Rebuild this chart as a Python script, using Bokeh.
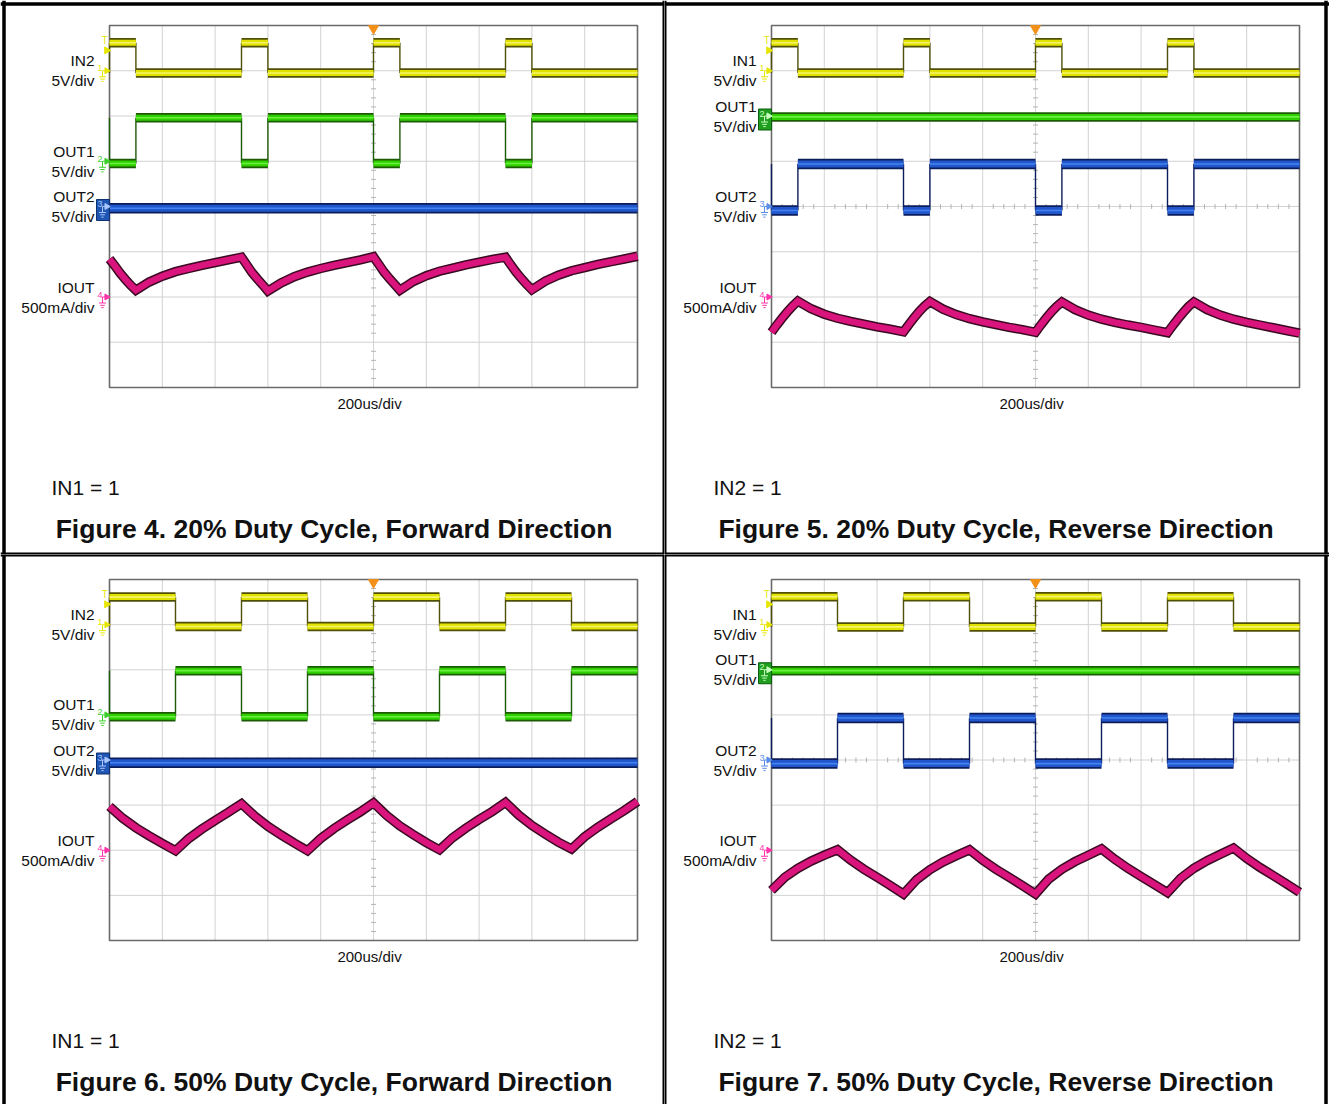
import numpy as np
from bokeh.plotting import figure
from bokeh.layouts import row, column
from bokeh.models import Range1d
from bokeh.embed import file_html
from bokeh.resources import INLINE
from bokeh.core.properties import value

# ---------------- data ----------------
US_PER_DIV = 200
N_XDIV = 10
N_YDIV = 8
T_END = US_PER_DIV * N_XDIV          # 2000 us on screen
TRIG_T = 1000                        # trigger position (us)
TRIG_LEVEL = 7.45                    # trigger level marker (div)

# input pulse edges (us)
EDGES_20 = [0, 100, 500, 600, 1000, 1100, 1500, 1600]
EDGES_50 = [0, 250, 500, 750, 1000, 1250, 1500, 1750]

# sample times for IOUT traces (us)
T_20 = [0, 20, 40, 60, 80, 100, 150, 200, 250, 300, 350, 400, 450, 500,
        520, 540, 560, 580, 600, 650, 700, 750, 800, 850, 900, 950, 1000,
        1020, 1040, 1060, 1080, 1100, 1150, 1200, 1250, 1300, 1350, 1400, 1450, 1500,
        1520, 1540, 1560, 1580, 1600, 1650, 1700, 1750, 1800, 1850, 1900, 1950, 2000]
T_50 = [0, 50, 100, 150, 200, 250, 300, 350, 400, 450, 500,
        550, 600, 650, 700, 750, 800, 850, 900, 950, 1000,
        1050, 1100, 1150, 1200, 1250, 1300, 1350, 1400, 1450, 1500,
        1550, 1600, 1650, 1700, 1750, 1800, 1850, 1900, 1950, 2000]

# Figure 4 (screen divisions)
F4_IN2 = [6.95, 7.62, 6.95, 7.62, 6.95, 7.62, 6.95, 7.62, 6.95]
F4_OUT1 = [5.96, 4.95, 5.96, 4.95, 5.96, 4.95, 5.96, 4.95, 5.96]
F4_OUT2 = [3.96]
F4_IOUT = [2.84, 2.69, 2.53, 2.39, 2.26, 2.15, 2.33, 2.46, 2.56, 2.63, 2.70, 2.76, 2.82, 2.88,
           2.71, 2.54, 2.40, 2.27, 2.13, 2.31, 2.45, 2.55, 2.63, 2.70, 2.76, 2.82, 2.89,
           2.72, 2.55, 2.41, 2.28, 2.15, 2.34, 2.47, 2.57, 2.64, 2.71, 2.77, 2.83, 2.88,
           2.71, 2.55, 2.41, 2.28, 2.16, 2.35, 2.48, 2.58, 2.65, 2.72, 2.78, 2.84, 2.90]

# Figure 5
F5_IN1 = [6.95, 7.62, 6.95, 7.62, 6.95, 7.62, 6.95, 7.62, 6.95]
F5_OUT1 = [5.98]
F5_OUT2 = [4.94, 3.91, 4.94, 3.91, 4.94, 3.91, 4.94, 3.91, 4.94]
F5_IOUT = [1.22, 1.38, 1.53, 1.67, 1.80, 1.91, 1.74, 1.62, 1.53, 1.46, 1.40, 1.34, 1.29, 1.23,
           1.39, 1.54, 1.68, 1.80, 1.90, 1.73, 1.61, 1.52, 1.45, 1.39, 1.33, 1.28, 1.22,
           1.38, 1.53, 1.67, 1.79, 1.89, 1.72, 1.60, 1.51, 1.44, 1.38, 1.33, 1.27, 1.21,
           1.37, 1.52, 1.66, 1.79, 1.89, 1.72, 1.60, 1.51, 1.44, 1.38, 1.32, 1.26, 1.20]

# Figure 6
F6_IN2 = [6.96, 7.61, 6.96, 7.61, 6.96, 7.61, 6.96, 7.61, 6.96]
F6_OUT1 = [5.98, 4.96, 5.98, 4.96, 5.98, 4.96, 5.98, 4.96, 5.98]
F6_OUT2 = [3.94]
F6_IOUT = [2.97, 2.71, 2.50, 2.32, 2.15, 1.99, 2.26, 2.47, 2.66, 2.84, 3.03,
           2.76, 2.53, 2.34, 2.16, 1.99, 2.26, 2.48, 2.67, 2.85, 3.05,
           2.77, 2.54, 2.35, 2.17, 2.01, 2.28, 2.49, 2.68, 2.86, 3.06,
           2.78, 2.55, 2.36, 2.18, 2.03, 2.30, 2.51, 2.70, 2.88, 3.08]

# Figure 7
F7_IN1 = [6.95, 7.62, 6.95, 7.62, 6.95, 7.62, 6.95, 7.62, 6.95]
F7_OUT1 = [5.98]
F7_OUT2 = [4.93, 3.92, 4.93, 3.92, 4.93, 3.92, 4.93, 3.92, 4.93]
F7_IOUT = [1.11, 1.40, 1.60, 1.76, 1.89, 2.01, 1.78, 1.58, 1.40, 1.22, 1.03,
           1.35, 1.57, 1.74, 1.88, 2.01, 1.78, 1.58, 1.40, 1.22, 1.03,
           1.36, 1.58, 1.75, 1.89, 2.03, 1.80, 1.60, 1.42, 1.24, 1.06,
           1.38, 1.60, 1.77, 1.91, 2.05, 1.82, 1.62, 1.44, 1.26, 1.07]

SCALES = ["5V/div", "5V/div", "5V/div", "500mA/div"]
TIMEBASE = "200us/div"

PANELS = [
    dict(caption="Figure 4. 20% Duty Cycle, Forward Direction", cond="IN1 = 1",
         names=["IN2", "OUT1", "OUT2", "IOUT"], grounds=[7.0, 5.0, 4.0, 2.0], boxed=2,
         ch1=(EDGES_20, F4_IN2), ch2=(EDGES_20, F4_OUT1), ch3=([], F4_OUT2), ch4=(T_20, F4_IOUT)),
    dict(caption="Figure 5. 20% Duty Cycle, Reverse Direction", cond="IN2 = 1",
         names=["IN1", "OUT1", "OUT2", "IOUT"], grounds=[7.0, 6.0, 4.0, 2.0], boxed=1,
         ch1=(EDGES_20, F5_IN1), ch2=([], F5_OUT1), ch3=(EDGES_20, F5_OUT2), ch4=(T_20, F5_IOUT)),
    dict(caption="Figure 6. 50% Duty Cycle, Forward Direction", cond="IN1 = 1",
         names=["IN2", "OUT1", "OUT2", "IOUT"], grounds=[7.0, 5.0, 4.0, 2.0], boxed=2,
         ch1=(EDGES_50, F6_IN2), ch2=(EDGES_50, F6_OUT1), ch3=([], F6_OUT2), ch4=(T_50, F6_IOUT)),
    dict(caption="Figure 7. 50% Duty Cycle, Reverse Direction", cond="IN2 = 1",
         names=["IN1", "OUT1", "OUT2", "IOUT"], grounds=[7.0, 6.0, 4.0, 2.0], boxed=1,
         ch1=(EDGES_50, F7_IN1), ch2=([], F7_OUT1), ch3=(EDGES_50, F7_OUT2), ch4=(T_50, F7_IOUT)),
]

# ---------------- layout / style ----------------
FONT = value("Liberation Sans")
PX_PER_US = 52.8 / US_PER_DIV

GEOM = [
    dict(page=(0, 664, 0, 554), plot_left=109, plot_top=25, plot_bottom=387),
    dict(page=(664, 1329, 0, 554), plot_left=771, plot_top=25, plot_bottom=387),
    dict(page=(0, 664, 554, 1104), plot_left=109, plot_top=579, plot_bottom=940),
    dict(page=(664, 1329, 554, 1104), plot_left=771, plot_top=579, plot_bottom=940),
]
# page-pixel positions of the outer frame lines (None = no line)
BORDERS = [
    dict(left=3.5, top=3.5, right="edge", bottom="edge"),
    dict(left="edge", top=3.5, right=1325.5, bottom="edge"),
    dict(left=3.5, top="edge", right="edge", bottom=None),
    dict(left="edge", top="edge", right=1325.5, bottom=None),
]

CH_STYLE = [
    dict(dark="#4f4f08", main="#e2e200", hi="#f4f46a", w=9.5, mark="#e6e600"),
    dict(dark="#1d5a05", main="#2fd000", hi="#6cf042", w=9.5, mark="#3ccf2a"),
    dict(dark="#0b1d5a", main="#2257cc", hi="#4384f2", w=10.5, mark="#5b8de8"),
    dict(dark="#3a0a22", main="#d9147c", hi="#ee3a96", w=9.5, mark="#ff33aa"),
]
BOX_STYLE = {1: dict(fill="#1f9e1f", line="#0b5e0b", sym="#c8ffc0"),
             2: dict(fill="#1f56b3", line="#0e2f70", sym="#a9c6ff")}


def make_panel(cfg, geo, brd):
    left, right, top, bottom = geo["page"]
    pl, pt, pb = geo["plot_left"], geo["plot_top"], geo["plot_bottom"]
    ppy = (pb - pt) / N_YDIV
    X = lambda px: px / PX_PER_US
    Y = lambda px: px / ppy
    PX = lambda px: (px - pl) / PX_PER_US        # page x -> data
    PY = lambda py: (pb - py) / ppy              # page y -> data
    x0r, x1r = PX(left), PX(right)
    y0r, y1r = PY(bottom), PY(top)
    p = figure(width=right - left, height=bottom - top,
               x_range=Range1d(x0r, x1r), y_range=Range1d(y0r, y1r),
               output_backend="svg", toolbar_location=None,
               x_axis_type=None, y_axis_type=None, min_border=0)
    p.outline_line_color = None
    p.background_fill_color = "white"
    p.border_fill_color = "white"

    # grid
    gx = [US_PER_DIV * i for i in range(1, N_XDIV)]
    p.segment(x0=gx, y0=0, x1=gx, y1=N_YDIV, line_color="#d2d2d2", line_width=1)
    gy = list(range(1, N_YDIV))
    p.segment(x0=0, y0=gy, x1=T_END, y1=gy, line_color="#d2d2d2", line_width=1)
    # minor ticks on center axes
    my = [0.2 * k for k in range(1, 5 * N_YDIV) if k % 5]
    p.segment(x0=TRIG_T - X(2.5), y0=my, x1=TRIG_T + X(2.5), y1=my, line_color="#b4b4b4", line_width=1)
    mx = [US_PER_DIV * 0.2 * k for k in range(1, 5 * N_XDIV) if k % 5]
    p.segment(x0=mx, y0=N_YDIV / 2 - Y(2.5), x1=mx, y1=N_YDIV / 2 + Y(2.5), line_color="#b4b4b4", line_width=1)
    # plot border
    p.quad(left=0, right=T_END, bottom=0, top=N_YDIV, fill_color=None,
           line_color="#6a6a6a", line_width=1.6)

    # square-wave channels
    for ci, key in enumerate(["ch1", "ch2", "ch3"]):
        edges, levels = cfg[key]
        st = CH_STYLE[ci]
        bounds = [0] + list(edges) + [T_END]
        sx0, sx1, sy = [], [], []
        for i, lv in enumerate(levels):
            a, b = bounds[i], bounds[i + 1]
            if b > a:
                sx0.append(a); sx1.append(b); sy.append(lv)
        if edges:
            p.segment(x0=edges, y0=levels[:-1], x1=edges, y1=levels[1:],
                      line_color=st["dark"], line_width=1.4)
        p.segment(x0=sx0, y0=sy, x1=sx1, y1=sy, line_color=st["dark"],
                  line_width=st["w"], line_cap="butt")
        p.segment(x0=sx0, y0=sy, x1=sx1, y1=sy, line_color=st["main"],
                  line_width=st["w"] - 3.5, line_cap="butt")
        p.segment(x0=sx0, y0=sy, x1=sx1, y1=sy, line_color=st["hi"],
                  line_width=1.6, line_cap="butt")

    # current channel
    tt, vv = cfg["ch4"]
    st = CH_STYLE[3]
    p.line(tt, vv, line_color=st["dark"], line_width=st["w"], line_join="miter")
    p.line(tt, vv, line_color=st["main"], line_width=st["w"] - 3.0, line_join="miter")

    # channel ground markers
    for ci in range(4):
        g = cfg["grounds"][ci]
        col = CH_STYLE[ci]["mark"]
        if cfg["boxed"] == ci:
            bs = BOX_STYLE[ci]
            p.rect(x=[X(-6.5)], y=[g - Y(3.5)], width=X(13), height=Y(21),
                   fill_color=bs["fill"], line_color=bs["line"], line_width=1)
            col = bs["sym"]
        p.text(x=[X(-9.5)], y=[g + Y(2.5)], text=[str(ci + 1)], text_font=FONT,
               text_font_size="9px", text_color=col, text_align="center", text_baseline="middle")
        p.segment(x0=[X(-7)], y0=[g], x1=[X(-4)], y1=[g], line_color=col, line_width=1)
        p.segment(x0=[X(-7)], y0=[g], x1=[X(-7)], y1=[g - Y(6)], line_color=col, line_width=1)
        gxs = [X(-7 - 3.5), X(-7 - 2.3), X(-7 - 1.1)]
        gxe = [X(-7 + 3.5), X(-7 + 2.3), X(-7 + 1.1)]
        gys = [g - Y(6), g - Y(8.3), g - Y(10.6)]
        p.segment(x0=gxs, y0=gys, x1=gxe, y1=gys, line_color=col, line_width=1)
        p.scatter(x=[X(-2.8)], y=[g], marker="triangle", size=6, angle=-np.pi / 2,
                  fill_color=col, line_color=col)

    # trigger markers
    ycol = CH_STYLE[0]["mark"]
    p.text(x=[X(-4.7)], y=[N_YDIV - Y(14.5)], text=["T"], text_font=FONT, text_font_size="10px",
           text_color=ycol, text_align="center", text_baseline="middle")
    p.scatter(x=[X(-2.8)], y=[TRIG_LEVEL], marker="triangle", size=7, angle=-np.pi / 2,
              fill_color=ycol, line_color=ycol)
    p.scatter(x=[TRIG_T], y=[N_YDIV - Y(3)], marker="inverted_triangle", size=10,
              fill_color="#f39019", line_color="#f39019")

    # channel labels
    lx = X(-15)
    ly, lt = [], []
    for ci in range(4):
        g = cfg["grounds"][ci]
        ly += [g + Y(10), g - Y(10)]
        lt += [cfg["names"][ci], SCALES[ci]]
    p.text(x=[lx] * len(ly), y=ly, text=lt, text_font=FONT, text_font_size="15.5px",
           text_color="#111111", text_align="right", text_baseline="middle")

    # timebase, condition, caption
    p.text(x=[985], y=[-Y(15.5)], text=[TIMEBASE], text_font=FONT, text_font_size="15px",
           text_color="#111111", text_align="center", text_baseline="middle")
    p.text(x=[X(-58)], y=[-Y(100)], text=[cfg["cond"]], text_font=FONT, text_font_size="21px",
           text_color="#111111", text_align="left", text_baseline="middle")
    p.text(x=[X(224.5)], y=[-Y(141.5)], text=[cfg["caption"]], text_font=FONT,
           text_font_size="26.5px", text_font_style="bold", text_color="#111111",
           text_align="center", text_baseline="middle")

    # quadrant frame lines
    def vline(pos, w):
        xx = x0r if pos == "edge_l" else x1r if pos == "edge_r" else PX(pos)
        p.segment(x0=[xx], y0=[y0r], x1=[xx], y1=[y1r], line_color="black", line_width=w)

    def hline(pos, w):
        yy = y1r if pos == "edge_t" else y0r if pos == "edge_b" else PY(pos)
        p.segment(x0=[x0r], y0=[yy], x1=[x1r], y1=[yy], line_color="black", line_width=w)

    if brd["left"] is not None:
        vline("edge_l" if brd["left"] == "edge" else brd["left"], 4 if brd["left"] == "edge" else 3.5)
    if brd["right"] is not None:
        vline("edge_r" if brd["right"] == "edge" else brd["right"], 4 if brd["right"] == "edge" else 3.5)
    if brd["top"] is not None:
        hline("edge_t" if brd["top"] == "edge" else brd["top"], 4 if brd["top"] == "edge" else 3.5)
    if brd["bottom"] is not None:
        hline("edge_b" if brd["bottom"] == "edge" else brd["bottom"], 4)
    return p


figs = [make_panel(c, g, b) for c, g, b in zip(PANELS, GEOM, BORDERS)]
layout = column(row(figs[0], figs[1]), row(figs[2], figs[3]))
open("out.html", "w").write(file_html(layout, INLINE))
